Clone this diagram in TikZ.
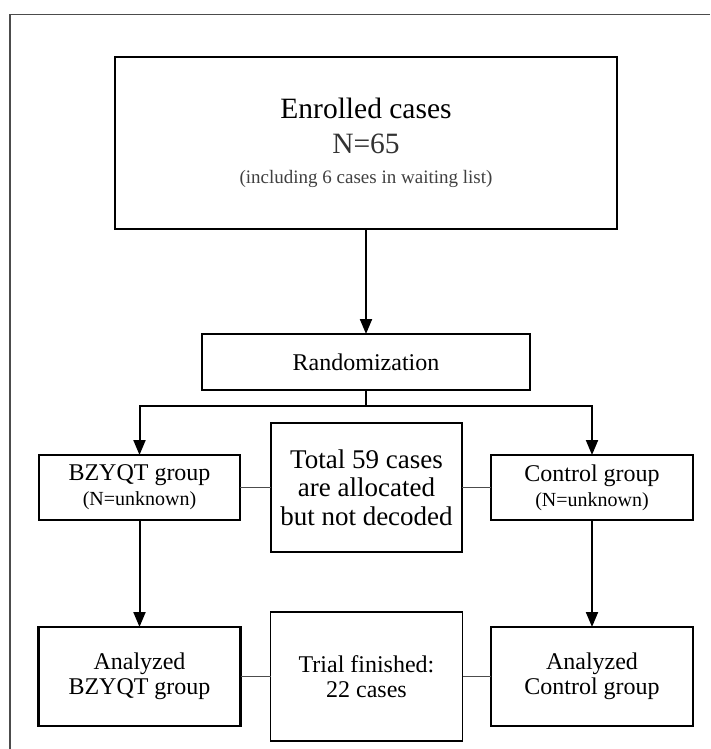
\documentclass[tikz,border=0pt]{standalone}
\usepackage{fontspec}
\setmainfont{Liberation Serif}
\usepackage{tikz}
\usetikzlibrary{arrows.meta,positioning}

\newcommand{\fs}[2]{\fontsize{#1}{#2}\selectfont}

\begin{document}
\begin{tikzpicture}[
    x=1pt, y=-1pt,
    box/.style={draw, line width=2.2pt, align=center, inner sep=0pt, outer sep=0pt, fill=white},
    thinbox/.style={draw, line width=1.1pt, align=center, inner sep=0pt, outer sep=0pt, fill=white},
    arrow/.style={-{Triangle[length=15pt, width=12pt]}, line width=2pt},
    link/.style={line width=1pt, black!70},
]
\useasboundingbox (0,0) rectangle (710,749);
\draw[line width=1.2pt, black!70] (710,14.7) -| (10,749);

\node[box, minimum width=502pt, minimum height=172pt, font=\fs{29.5}{35}] (enroll) at (366,143)
    {Enrolled cases\\{\color{black!80}N=65}\\[-5pt]{\fs{19}{22}\color{black!75}(including 6 cases in waiting list)}};
\node[box, line width=1.8pt, minimum width=328pt, minimum height=56pt, font=\fs{24}{25}, below=105pt of enroll] (random) {Randomization};
\coordinate[below=16pt of random] (split);

\node[box, minimum width=201pt, minimum height=65pt, font=\fs{24}{25}] (bzyqt) at (139.5,487.5)
    {BZYQT group\\{\fs{20}{22}(N=unknown)}};
\node[thinbox, minimum width=191pt, minimum height=129pt, font=\fs{27}{28.5}, right=31pt of bzyqt] (total)
    {Total 59 cases\\are allocated\\but not decoded};
\node[box, minimum width=202pt, minimum height=65pt, font=\fs{24}{25}, right=29pt of total] (control)
    {Control group\\{\fs{20}{22}(N=unknown)}};

\node[box, minimum width=202pt, minimum height=99pt, font=\fs{24}{24.5}, below=107pt of bzyqt] (anabz)
    {Analyzed\\BZYQT group};
\node[thinbox, minimum width=192pt, minimum height=129pt, font=\fs{24}{24.5}, right=30pt of anabz] (trial)
    {Trial finished:\\22 cases};
\node[box, minimum width=202pt, minimum height=99pt, font=\fs{24}{24.5}, below=107pt of control] (anactl)
    {Analyzed\\Control group};

\draw[arrow] (enroll) -- (random);
\draw[line width=2pt] (random) -- (split);
\draw[arrow] (split) -| (bzyqt);
\draw[arrow] (split) -| (control);
\draw[arrow] (bzyqt) -- (anabz);
\draw[arrow] (control) -- (anactl);

% thin links to the middle boxes
\draw[link] (bzyqt) -- (total);
\draw[link] (total) -- (control);
\draw[link] (anabz) -- (trial);
\draw[link] (trial) -- (anactl);
\end{tikzpicture}
\end{document}
